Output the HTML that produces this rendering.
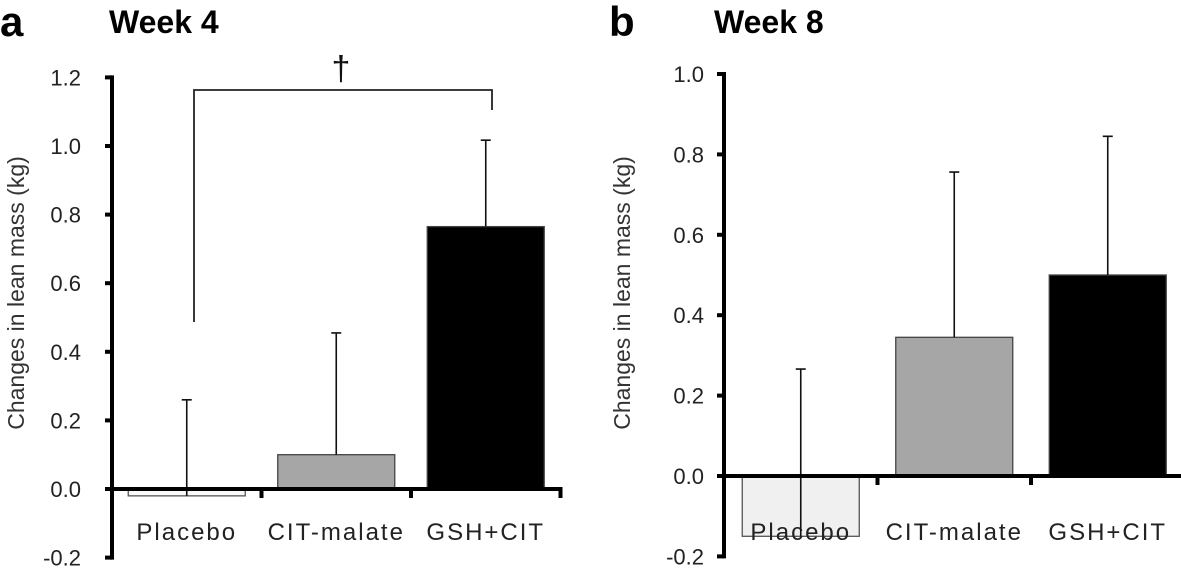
<!DOCTYPE html>
<html><head><meta charset="utf-8"><style>
html,body{margin:0;padding:0;background:#fff;}
svg{display:block;font-family:"Liberation Sans",sans-serif;}
</style></head><body>
<svg id="chart" width="1181" height="570" viewBox="0 0 1181 570">
<text x="0" y="36" font-size="42" font-weight="bold">a</text>
<text x="109" y="33" font-size="32" font-weight="bold">Week 4</text>
<text x="609" y="36" font-size="42" font-weight="bold">b</text>
<text x="714" y="33" font-size="32" font-weight="bold">Week 8</text>
<text transform="translate(24,293) rotate(-90)" text-anchor="middle" font-size="23" fill="#333">Changes in lean mass (kg)</text>
<text transform="translate(630,293) rotate(-90)" text-anchor="middle" font-size="23" fill="#333">Changes in lean mass (kg)</text>
<g>
<path d="M194 322 V90 H492 V110" fill="none" stroke="#222" stroke-width="1.8"/>
<text x="341" y="80" text-anchor="middle" font-size="34" fill="#111">†</text>
</g>
</svg>
<script>
const categories = ["Placebo", "CIT-malate", "GSH+CIT"];
const week4Values = [-0.02, 0.10, 0.765];
const week4ErrTop = [0.26, 0.455, 1.017];
const week8Values = [-0.15, 0.345, 0.50];
const week8ErrTop = [0.266, 0.756, 0.845];
const week4Ticks = ["1.2","1.0","0.8","0.6","0.4","0.2","0.0","-0.2"];
const week8Ticks = ["1.0","0.8","0.6","0.4","0.2","0.0","-0.2"];

const NS = "http://www.w3.org/2000/svg";
const svg = document.getElementById("chart");
function mk(tag, attrs, parent) {
  const e = document.createElementNS(NS, tag);
  for (const k in attrs) e.setAttribute(k, attrs[k]);
  (parent || svg).appendChild(e);
  return e;
}
const fills = [null, "#a6a6a6", "#000"];

function panel(p) {
  const y = v => p.y0 - (v - 0) * p.pxPerUnit;
  const g = mk("g", {});
  
  
  const ymax = parseFloat(p.ticks[0]), ymin = parseFloat(p.ticks[p.ticks.length-1]);
  p.ticks.forEach(t => {
    const v = parseFloat(t);
    const tk = mk("line", {x1: p.ax - 7, x2: p.ax, y1: y(v), y2: y(v), stroke: "#000", "stroke-width": 4}, g);
    
    
    const tl = mk("text", {x: p.ax - p.labOff, y: y(v) + 8, "text-anchor": "end", "font-size": 22, fill: "#222"}, g);
    tl.textContent = t;
    
    
  });
  const step = p.step;
  categories.forEach((c, i) => {
    const cx = p.ax + step * (i + 0.5);
    const v = p.vals[i];
    const top = Math.min(y(v), y(0)), h = Math.abs(y(v) - y(0));
    const isPl = i === 0;
    const bar = mk("rect", {x: cx - 58.5, y: top, width: 117, height: Math.max(h, 1),
      fill: isPl ? p.plFill : fills[i], stroke: isPl ? "#555" : "#444", "stroke-width": 1.3}, g);
    
    
    const lab = mk("text", {x: cx, y: 540, "text-anchor": "middle", "font-size": 24, "letter-spacing": 2, fill: "#222"}, g);
    lab.textContent = c;
    
    
    const eb = mk("path", {d: `M${cx} ${y(v)} V${y(p.err[i])} M${cx-5} ${y(p.err[i])} H${cx+5}`,
      stroke: "#111", "stroke-width": 1.6, fill: "none"}, g);
    
    
    const xt = mk("line", {x1: p.ax + step * (i + 1), x2: p.ax + step * (i + 1), y1: y(0), y2: y(0) + 9, stroke: "#000", "stroke-width": 4}, g);
    
    
  });
  const xa = mk("line", {x1: p.ax - 7, x2: p.ax + step * 3 + 2, y1: y(0), y2: y(0), stroke: "#000", "stroke-width": 4}, g);
  
  
  const ya = mk("line", {x1: p.ax, x2: p.ax, y1: y(ymax) - 2, y2: y(ymin) + 2, stroke: "#000", "stroke-width": 4}, g);
  
  
}
panel({name: "panel-a-week4", key: "w4", ax: 112, y0: 489, pxPerUnit: 343, step: 149.5, labOff: 31,
  vals: week4Values, err: week4ErrTop, ticks: week4Ticks, plFill: "#fafafa"});
panel({name: "panel-b-week8", key: "w8", ax: 724, y0: 476, pxPerUnit: 402, step: 153.5, labOff: 20,
  vals: week8Values, err: week8ErrTop, ticks: week8Ticks, plFill: "#f0f0f0"});
</script>
</body></html>
